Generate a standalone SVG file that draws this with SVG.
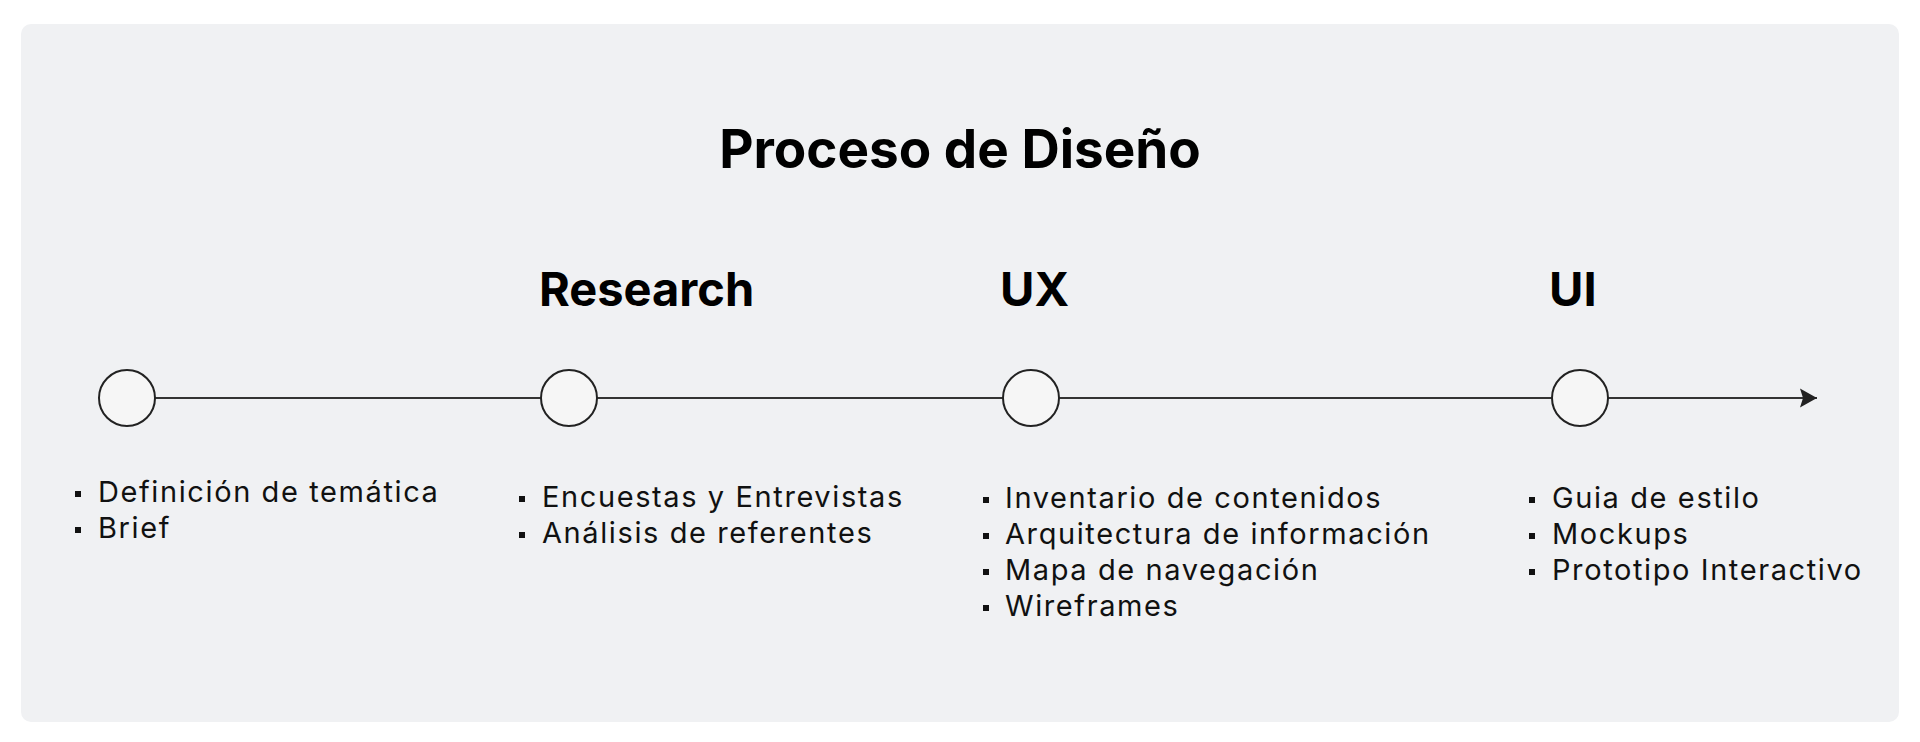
<svg xmlns="http://www.w3.org/2000/svg" width="1920" height="742" viewBox="0 0 1920 742">
<defs>
<style>
.title{font-family:Inter,"Liberation Sans",sans-serif;font-weight:700;font-size:53px;fill:#000}
.head{font-family:Inter,"Liberation Sans",sans-serif;font-weight:700;font-size:47px;fill:#000}
.item{font-family:Inter,"Liberation Sans",sans-serif;font-weight:400;font-size:29px;letter-spacing:1.6px;fill:#111}
.dot{fill:#f6f6f6;stroke:#222;stroke-width:2}
.conn{stroke:#333;stroke-width:2;fill:none}
.bul{fill:#111}
</style>
<marker id="arrow" viewBox="0 0 20 20" refX="17" refY="10" markerWidth="20" markerHeight="20" markerUnits="userSpaceOnUse" orient="auto">
<path d="M0,0.5 L17,10 L0,19.5 L3,10 Z" fill="#222"/>
</marker>
</defs>
<rect x="21" y="24" width="1878" height="698" rx="10" fill="#f0f1f3"/>
<text class="title" x="960" y="168" text-anchor="middle">Proceso de Diseño</text>
<g id="connectors">
<line class="conn" x1="155" y1="398" x2="541" y2="398"/>
<line class="conn" x1="597" y1="398" x2="1003" y2="398"/>
<line class="conn" x1="1059" y1="398" x2="1552" y2="398"/>
<line class="conn" x1="1608" y1="398" x2="1817" y2="398" marker-end="url(#arrow)"/>
</g>
<g id="node-inicio">
<circle class="dot" cx="127" cy="398" r="28"/>
<rect class="bul" x="75" y="491" width="6" height="6"/>
<text class="item" x="98" y="502">Definición de temática</text>
<rect class="bul" x="75" y="527" width="6" height="6"/>
<text class="item" x="98" y="538">Brief</text>
</g>
<g id="node-research">
<text class="head" x="539" y="306">Research</text>
<circle class="dot" cx="569" cy="398" r="28"/>
<rect class="bul" x="519" y="496" width="6" height="6"/>
<text class="item" x="542" y="507">Encuestas y Entrevistas</text>
<rect class="bul" x="519" y="532" width="6" height="6"/>
<text class="item" x="542" y="543">Análisis de referentes</text>
</g>
<g id="node-ux">
<text class="head" x="1000" y="306">UX</text>
<circle class="dot" cx="1031" cy="398" r="28"/>
<rect class="bul" x="983" y="497" width="6" height="6"/>
<text class="item" x="1005" y="508">Inventario de contenidos</text>
<rect class="bul" x="983" y="533" width="6" height="6"/>
<text class="item" x="1005" y="544">Arquitectura de información</text>
<rect class="bul" x="983" y="569" width="6" height="6"/>
<text class="item" x="1005" y="580">Mapa de navegación</text>
<rect class="bul" x="983" y="605" width="6" height="6"/>
<text class="item" x="1005" y="616">Wireframes</text>
</g>
<g id="node-ui">
<text class="head" x="1549" y="306">UI</text>
<circle class="dot" cx="1580" cy="398" r="28"/>
<rect class="bul" x="1529" y="497" width="6" height="6"/>
<text class="item" x="1552" y="508">Guia de estilo</text>
<rect class="bul" x="1529" y="533" width="6" height="6"/>
<text class="item" x="1552" y="544">Mockups</text>
<rect class="bul" x="1529" y="569" width="6" height="6"/>
<text class="item" x="1552" y="580">Prototipo Interactivo</text>
</g>
</svg>
